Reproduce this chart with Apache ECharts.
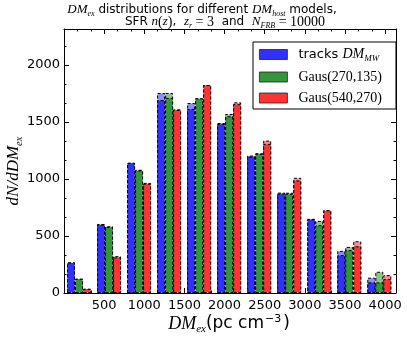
<!DOCTYPE html>
<html>
<head>
<meta charset="utf-8">
<script src="https://cdn.jsdelivr.net/npm/echarts@6/dist/echarts.min.js"></script>
<style>
html, body { margin: 0; padding: 0; background: #fff; }
#main { width: 407px; height: 341px; }
</style>
</head>
<body>
<div id="main"></div>
<script>
// histogram bins (pc cm^-3)
var binCenters = [187, 561, 935, 1309, 1683, 2057, 2431, 2805, 3179, 3553, 3927];
var binWidth = 374;

// solid bars and the lighter upper part drawn behind them
var tracksMW     = [268, 600, 1141, 1691, 1613, 1482, 1196, 871, 646, 332, 93];
var tracksMWHigh = [268, 605, 1141, 1753, 1665, 1490, 1205, 880, 650, 369, 134];
var gaus270      = [125, 579, 1074, 1710, 1706, 1550, 1220, 870, 594, 376, 93];
var gaus270High  = [125, 585, 1080, 1753, 1706, 1569, 1225, 879, 632, 404, 186];
var gaus540      = [35, 312, 958, 1604, 1823, 1655, 1307, 987, 725, 410, 122];
var gaus540High  = [38, 323, 965, 1610, 1823, 1671, 1336, 1010, 725, 454, 157];

var xTicks = [500, 1000, 1500, 2000, 2500, 3000, 3500, 4000];
var yTicks = [0, 500, 1000, 1500, 2000];

var serifI = { fontFamily: 'Liberation Serif', fontStyle: 'italic' };

function pairs(vals, shift) {
    return vals.map(function (v, i) { return [binCenters[i] + shift, v]; });
}

function barSeries(name, vals, shift, color, z) {
    return {
        name: name,
        type: 'bar',
        data: pairs(vals, shift),
        barWidth: 8,
        barGap: '-100%',
        z: z,
        itemStyle: {
            color: color,
            borderColor: '#000',
            borderWidth: 1,
            borderType: [3, 2]
        },
        emphasis: { disabled: true }
    };
}

// frame axes: ticks point inwards on all four sides
function frameAxis(type, pos, max, labels) {
    return {
        type: 'value',
        position: pos,
        min: 0,
        max: max,
        interval: 500,
        axisLine: { show: true, onZero: false, lineStyle: { color: '#000', width: 1 } },
        axisTick: { show: true, inside: true, length: 5, lineStyle: { color: '#000' } },
        minorTick: { show: true, splitNumber: 3, length: 2.5, lineStyle: { color: '#000' } },
        splitLine: { show: false },
        axisLabel: labels ? {
            color: '#000', fontFamily: 'DejaVu Sans', fontSize: 13,
            margin: type === 'x' ? 6 : 4,
            formatter: function (v) { return labels.indexOf(v) >= 0 ? String(v) : ''; }
        } : { show: false }
    };
}

var shift = binWidth * 0.8 / 3;

var legendNames = {
    tracks: '{t|tracks }{m|DM}{s|MW}',
    g270: '{r|Gaus(270,135)}',
    g540: '{r|Gaus(540,270)}'
};

var titleRich = {
    t: { fontFamily: 'DejaVu Sans', fontSize: 12, fill: '#000', lineHeight: 14 },
    r: { fontFamily: 'Liberation Serif', fontSize: 14, fill: '#000', lineHeight: 14 },
    m: Object.assign({ fontSize: 13, fill: '#000', lineHeight: 14 }, serifI),
    s: Object.assign({ fontSize: 8, fill: '#000', lineHeight: 8, padding: [7, 0, 0, 0] }, serifI)
};

var myChart = echarts.init(document.getElementById('main'));

var option = {
    animation: false,
    grid: { left: 64, right: 11, top: 29, bottom: 48 },
    legend: {
        data: ['tracks', 'g270', 'g540'],
        orient: 'vertical',
        left: 253,
        top: 42,
        padding: [4, 14, 4, 6],
        itemGap: 7,
        itemWidth: 28,
        itemHeight: 10,
        icon: 'rect',
        backgroundColor: '#fff',
        borderColor: '#000',
        borderWidth: 1,
        borderRadius: 0,
        itemStyle: { borderType: 'solid', borderColor: '#222', borderWidth: 0.8 },
        formatter: function (name) { return legendNames[name]; },
        textStyle: {
            padding: [0, 0, 0, 6],
            rich: {
                t: { fontFamily: 'DejaVu Sans', fontSize: 13, color: '#000', lineHeight: 16 },
                r: { fontFamily: 'Liberation Serif', fontSize: 14, color: '#000', lineHeight: 16 },
                m: Object.assign({ fontSize: 14, color: '#000', lineHeight: 16 }, serifI),
                s: Object.assign({ fontSize: 9, color: '#000', lineHeight: 9, padding: [8, 0, 0, 0] }, serifI)
            }
        }
    },
    xAxis: [frameAxis('x', 'bottom', 4135, xTicks), frameAxis('x', 'top', 4135, null)],
    yAxis: [frameAxis('y', 'left', 2314, yTicks), frameAxis('y', 'right', 2314, null)],
    series: [
        barSeries('tracksHigh', tracksMWHigh, -shift, '#8c8cff', 2),
        barSeries('g270High', gaus270High, 0, '#8cc48c', 2),
        barSeries('g540High', gaus540High, shift, '#ff8c8c', 2),
        barSeries('tracks', tracksMW, -shift, '#3030ff', 3),
        barSeries('g270', gaus270, 0, '#32963a', 3),
        barSeries('g540', gaus540, shift, '#ff3333', 3)
    ],
    graphic: [{
        type: 'text',
        x: 202, y: 10,
        style: {
            text: '{m|DM}{s|ex}{t| distributions for different }{m|DM}{s|host}{t| models,}',
            align: 'center', verticalAlign: 'middle',
            rich: titleRich
        }
    }, {
        type: 'text',
        x: 225, y: 22,
        style: {
            text: '{t|SFR }{m|n}{r|(}{m|z}{r|)}{t|,  }{m|z}{s|r}{r| = 3}{t|  and  }{m|N}{s|FRB}{r| = 10000}',
            align: 'center', verticalAlign: 'middle',
            rich: titleRich
        }
    }, {
        type: 'text',
        x: 14, y: 171,
        rotation: Math.PI / 2,
        style: {
            text: '{m|dN/dDM}{s|ex}',
            align: 'center', verticalAlign: 'middle',
            rich: {
                m: Object.assign({ fontSize: 17, fill: '#000', lineHeight: 19 }, serifI),
                s: Object.assign({ fontSize: 10.5, fill: '#000', lineHeight: 10, padding: [10, 0, 0, 0] }, serifI)
            }
        }
    }, {
        type: 'text',
        x: 229, y: 324,
        style: {
            text: '{m|DM}{s|ex}{t|(pc cm}{p|−3}{t|)}',
            align: 'center', verticalAlign: 'middle',
            rich: {
                t: { fontFamily: 'DejaVu Sans', fontSize: 17, fill: '#000', lineHeight: 20 },
                m: Object.assign({ fontSize: 18, fill: '#000', lineHeight: 20 }, serifI),
                s: Object.assign({ fontSize: 11, fill: '#000', lineHeight: 11, padding: [10, 0, 0, 0] }, serifI),
                p: { fontFamily: 'DejaVu Sans', fontSize: 11, fill: '#000', lineHeight: 11, padding: [0, 2, 9, 1] }
            }
        }
    }]
};

myChart.setOption(option);
</script>
</body>
</html>
